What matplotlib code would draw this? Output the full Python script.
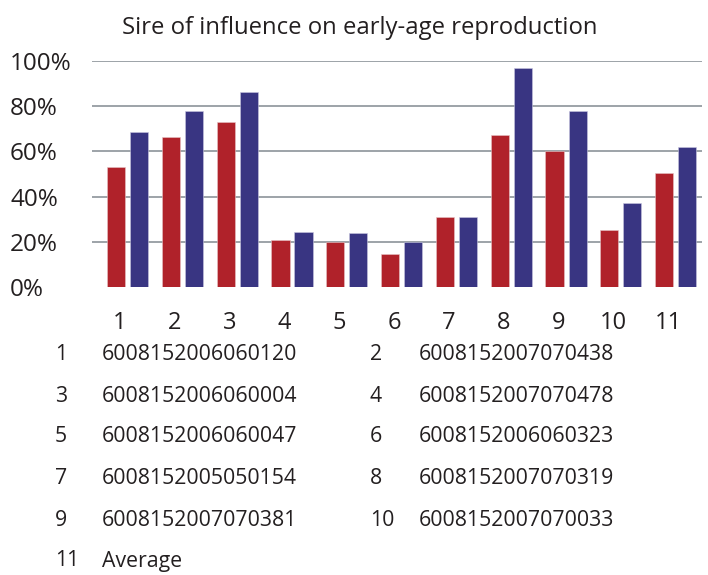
import numpy as np
import matplotlib.pyplot as plt

plt.rcParams['font.family'] = ['Open Sans', 'DejaVu Sans']

groups = ['1', '2', '3', '4', '5', '6', '7', '8', '9', '10', '11']
red_vals = [0.53, 0.665, 0.73, 0.206, 0.199, 0.145, 0.311, 0.671, 0.60, 0.254, 0.503]
blue_vals = [0.684, 0.777, 0.863, 0.243, 0.237, 0.199, 0.311, 0.968, 0.777, 0.372, 0.621]
yticks = [0, 0.2, 0.4, 0.6, 0.8, 1.0]
ytick_labels = ['0%', '20%', '40%', '60%', '80%', '100%']

key_nums = ['1', '2', '3', '4', '5', '6', '7', '8', '9', '10', '11']
key_names = ['6008152006060120', '6008152007070438', '6008152006060004',
             '6008152007070478', '6008152006060047', '6008152006060323',
             '6008152005050154', '6008152007070319', '6008152007070381',
             '6008152007070033', 'Average']

red = '#B0222A'
blue = '#393582'
grid_col = '#8C9399'
text_col = '#231F20'

fig = plt.figure(figsize=(7.08, 5.75), dpi=100)
ax = fig.add_axes([92 / 708, 1 - 287 / 575, 610 / 708, 226 / 575])

x = np.arange(len(groups))
w = 0.33
for y in yticks[1:]:
    ax.axhline(y, color=grid_col, lw=1.2, zorder=0)
ax.bar(x - 0.21, red_vals, w, color=red, edgecolor='#E6C4C6', lw=0.4, zorder=2)
ax.bar(x + 0.21, blue_vals, w, color=blue, edgecolor='#C8C6E0', lw=0.4, zorder=2)

ax.set_xlim(-0.648, 10.48)
ax.set_ylim(0, 1.0)
for s in ax.spines.values():
    s.set_visible(False)

ax.set_yticks(yticks)
ax.set_yticklabels(ytick_labels, fontsize=17.5, color=text_col)
for t in ax.get_yticklabels():
    t.set_horizontalalignment('left')
ax.tick_params(axis='y', length=0, pad=59)

ax.set_xticks(x - 0.14)
ax.set_xticklabels(groups, fontsize=17, color=text_col)
ax.tick_params(axis='x', length=0, pad=17)

fig.text(360 / 708, 1 - 28 / 575, 'Sire of influence on early-age reproduction',
         ha='center', va='center', fontsize=17.2, color=text_col)

# key table under the chart
rows_y = [355, 396, 437, 479, 520, 561]
for i, (num, name) in enumerate(zip(key_nums, key_names)):
    row = i // 2
    col = i % 2
    yy = 1 - rows_y[row] / 575
    nx = [55, 370][col] / 708
    tx = [102, 419][col] / 708
    fig.text(nx, yy, num, ha='left', va='center', fontsize=15.3, color=text_col)
    fig.text(tx, yy, name, ha='left', va='center', fontsize=15.3, color=text_col)

fig.savefig('out.png', dpi=100)
